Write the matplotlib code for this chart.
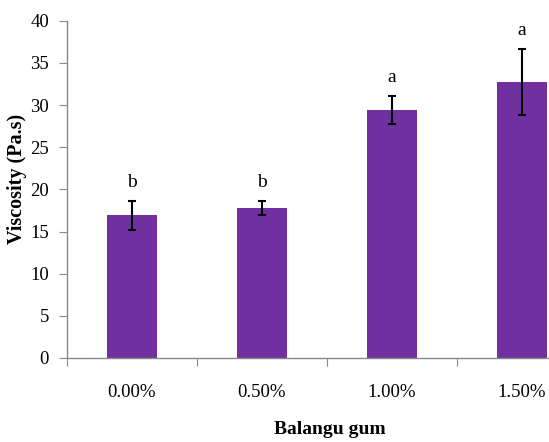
import matplotlib
matplotlib.use("Agg")
import matplotlib.pyplot as plt
import numpy as np

categories = ["0.00%", "0.50%", "1.00%", "1.50%"]
viscosity = [16.9, 17.8, 29.4, 32.7]
errors = [1.75, 0.8, 1.65, 3.9]
letters = ["b", "b", "a", "a"]

plt.rcParams['font.family'] = ['Liberation Serif', 'DejaVu Serif']

fig = plt.figure(figsize=(5.49, 4.42), dpi=100)
fig.patch.set_facecolor('white')
ax = fig.add_axes([67/549, 1-358/442, (587-67)/549, (358-20.7)/442])

x = np.arange(len(categories)) + 0.5
ax.bar(x, viscosity, width=0.385, color='#7030A0', zorder=2)
ax.errorbar(x, viscosity, yerr=errors, fmt='none', ecolor='black',
            elinewidth=1.5, capsize=3, capthick=1.5, zorder=3)
for xi, v, e, l in zip(x, viscosity, errors, letters):
    ax.text(xi, v + e + 1.2, l, ha='center', va='bottom', fontsize=14)

ax.set_xlim(0, 4)
ax.set_ylim(0, 40)
ax.set_yticks(np.arange(0, 41, 5))
ax.set_xticks(np.arange(0, 5, 1))
ax.set_xticklabels([])
ax.set_xticks(x, minor=True)
ax.set_xticklabels(categories, minor=True)
ax.tick_params(axis='x', which='major', length=6, color='#888888', direction='out')
ax.tick_params(axis='x', which='minor', length=0, pad=19, labelsize=13.5)
ax.tick_params(axis='y', length=6, color='#888888', direction='out', pad=7, labelsize=13.5)

for s in ['top', 'right']:
    ax.spines[s].set_visible(False)
for s in ['left', 'bottom']:
    ax.spines[s].set_color('#888888')
    ax.spines[s].set_linewidth(1.0)

fig.text(330/549, 1-430/442, "Balangu gum", ha='center', va='center',
         fontsize=14, fontweight='bold')
fig.text(17.5/549, 1-179/442, "Viscosity (Pa.s)", ha='center', va='center',
         rotation=90, fontsize=14.5, fontweight='bold')

fig.savefig("out.png", dpi=100)
